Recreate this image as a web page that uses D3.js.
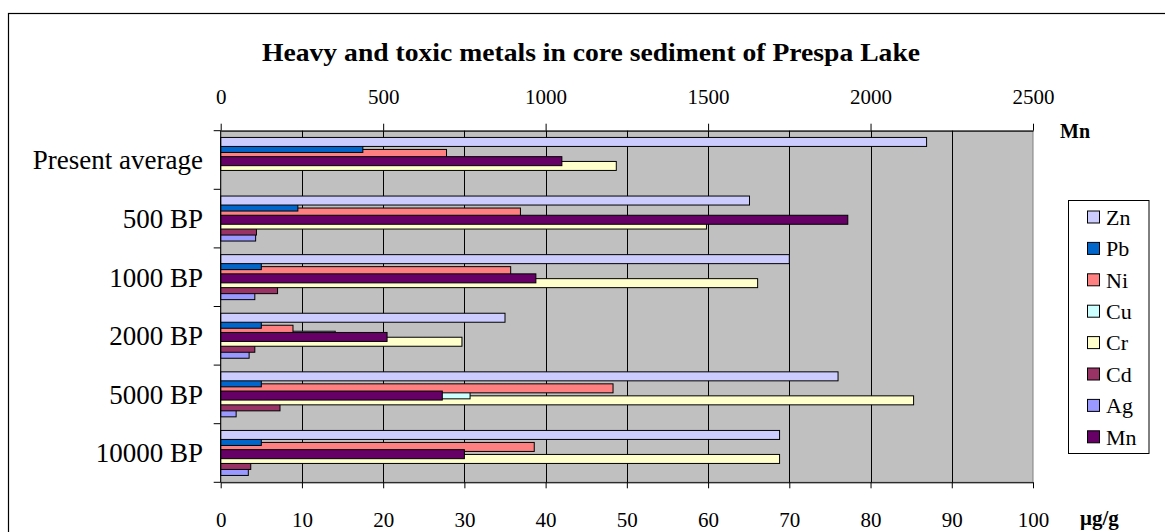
<!DOCTYPE html>
<html><head><meta charset="utf-8">
<script src="https://cdn.jsdelivr.net/npm/d3@7"></script>
<style>
html,body{margin:0;padding:0;background:#fff;}
svg{display:block;font-family:"Liberation Serif","Times New Roman",serif;}
</style></head>
<body>
<svg id="chart" width="1165" height="532"></svg>
<script>
// ---------- data ----------
const categories = ["Present average","500 BP","1000 BP","2000 BP","5000 BP","10000 BP"];
const primarySeries = ["Zn","Pb","Ni","Cu","Cr","Cd","Ag"]; // top to bottom within a cluster
const legendSeries = ["Zn","Pb","Ni","Cu","Cr","Cd","Ag","Mn"];
const Zn = [86.9, 65.1, 70.0, 35.0, 76.0, 68.8];
const Pb = [17.5, 9.5, 5.0, 5.0, 5.0, 5.0];
const Ni = [27.8, 36.9, 35.7, 8.9, 48.3, 38.6];
const Cu = [0, 0, 0, 14.1, 30.7, 0];
const Cr = [48.7, 59.8, 66.1, 29.7, 85.3, 68.8];
const Cd = [0, 4.4, 7.0, 4.2, 7.3, 3.7];
const Ag = [0, 4.3, 4.2, 3.5, 1.9, 3.4];
const Mn = [1050, 1930, 970, 512, 682, 750];   // secondary (top) axis
const bottomTicks = [0,10,20,30,40,50,60,70,80,90,100];
const topTicks = [0,500,1000,1500,2000,2500];
const seriesValues = {Zn, Pb, Ni, Cu, Cr, Cd, Ag, Mn};
const colors = {Zn:"#CCCCFF", Pb:"#0066CC", Ni:"#FF8080", Cu:"#CCFFFF", Cr:"#FFFFCC", Cd:"#993366", Ag:"#9999FF", Mn:"#660066"};

// ---------- layout ----------
const svg = d3.select("#chart");
const L = 220.7, R = 1033, T = 130.7, B = 482.3;

// outer chart border
svg.append("rect").attr("x",8.5).attr("y",13.5).attr("width",1300).attr("height",700)
  .attr("fill","#fff").attr("stroke","#000").attr("stroke-width",1.2);

const x = d3.scaleLinear().domain([0,100]).range([L,R]);
const x2 = d3.scaleLinear().domain([0,2500]).range([L,R]);
const y = d3.scaleBand().domain(categories).range([T,B]).padding(0);
const bw = y.bandwidth();
const barH = bw*0.1536;
const yIn = d3.scalePoint().domain(primarySeries).range([bw*0.115, bw*(0.115+6*0.1024)]);
const mnTop = bw*0.443;

// plot area
svg.append("rect").attr("x",L).attr("y",T).attr("width",R-L).attr("height",B-T)
  .attr("fill","#C0C0C0").attr("stroke","#808080").attr("stroke-width",1);

// gridlines
svg.append("g").selectAll("line").data(bottomTicks.slice(1,-1)).join("line")
  .attr("x1",d=>Math.round(x(d))+0.5).attr("x2",d=>Math.round(x(d))+0.5)
  .attr("y1",T).attr("y2",B).attr("stroke","#000").attr("stroke-width",1);

// primary bars: drawn bottom series first so upper series overlap
const drawOrder = primarySeries.slice().reverse();
drawOrder.forEach(s => {
  svg.append("g").selectAll("rect").data(categories.map((c,i)=>({c, v:seriesValues[s][i]})).filter(d=>d.v>0))
    .join("rect")
    .attr("x", x(0)).attr("y", d=>y(d.c)+yIn(s))
    .attr("width", d=>x(d.v)-x(0)).attr("height", barH)
    .attr("fill", colors[s]).attr("stroke","#000").attr("stroke-width",1);
});
// Mn on secondary axis
svg.append("g").selectAll("rect").data(categories.map((c,i)=>({c, v:Mn[i]})))
  .join("rect")
  .attr("x", x2(0)).attr("y", d=>y(d.c)+mnTop)
  .attr("width", d=>x2(d.v)-x2(0)).attr("height", barH)
  .attr("fill", colors.Mn).attr("stroke","#000").attr("stroke-width",1);

// axes
const axB = svg.append("g").attr("transform",`translate(0,${B})`)
  .call(d3.axisBottom(x).tickValues(bottomTicks).tickFormat(d3.format("d")).tickSize(6).tickPadding(24).tickSizeOuter(0));
const axT = svg.append("g").attr("transform",`translate(0,${T})`)
  .call(d3.axisTop(x2).tickValues(topTicks).tickFormat(d3.format("d")).tickSize(7).tickPadding(20).tickSizeOuter(0));
[axB, axT].forEach(a=>{
  a.select(".domain").attr("stroke","#000");
  a.selectAll(".tick line").attr("stroke","#000");
  a.selectAll(".tick text").attr("font-family","Liberation Serif").attr("font-size",21).attr("fill","#000");
});

// left axis: line, boundary ticks, labels
svg.append("line").attr("x1",L).attr("x2",L).attr("y1",T).attr("y2",B).attr("stroke","#000");
const bounds = categories.map(c=>y(c)).concat([B]);
svg.append("g").selectAll("line").data(bounds).join("line")
  .attr("x1",L-7).attr("x2",L).attr("y1",d=>d).attr("y2",d=>d).attr("stroke","#000");
svg.append("g").selectAll("text").data(categories).join("text")
  .attr("x", 203).attr("y", d=>y(d)+bw/2).attr("dy","0.35em")
  .attr("text-anchor","end").attr("font-size",27).text(d=>d);

// title
svg.append("text").attr("x",591).attr("y",52).attr("dy","0.35em").attr("text-anchor","middle")
  .attr("font-weight","bold").attr("font-size",25).attr("textLength",658).attr("lengthAdjust","spacingAndGlyphs")
  .text("Heavy and toxic metals in core sediment of Prespa Lake");

// axis unit labels
svg.append("text").attr("x",1060).attr("y",131).attr("dy","0.35em").attr("font-weight","bold")
  .attr("font-size",20).text("Mn");
svg.append("text").attr("x",1080).attr("y",518).attr("dy","0.35em").attr("font-weight","bold")
  .attr("font-size",21).text("μg/g");

// legend
const lgX = 1068.5, lgY = 200.5, lgW = 80.5, lgH = 253, rowH = 31.4, firstRow = 217;
svg.append("rect").attr("x",lgX).attr("y",lgY).attr("width",lgW).attr("height",lgH)
  .attr("fill","#fff").attr("stroke","#000");
const lg = svg.append("g").selectAll("g").data(legendSeries).join("g")
  .attr("transform",(d,i)=>`translate(0,${firstRow+i*rowH})`);
lg.append("rect").attr("x",1087.5).attr("y",-6).attr("width",12).attr("height",12)
  .attr("fill",d=>colors[d]).attr("stroke","#000");
lg.append("text").attr("x",1106).attr("y",0).attr("dy","0.35em").attr("font-size",22).text(d=>d);
</script>
</body></html>
